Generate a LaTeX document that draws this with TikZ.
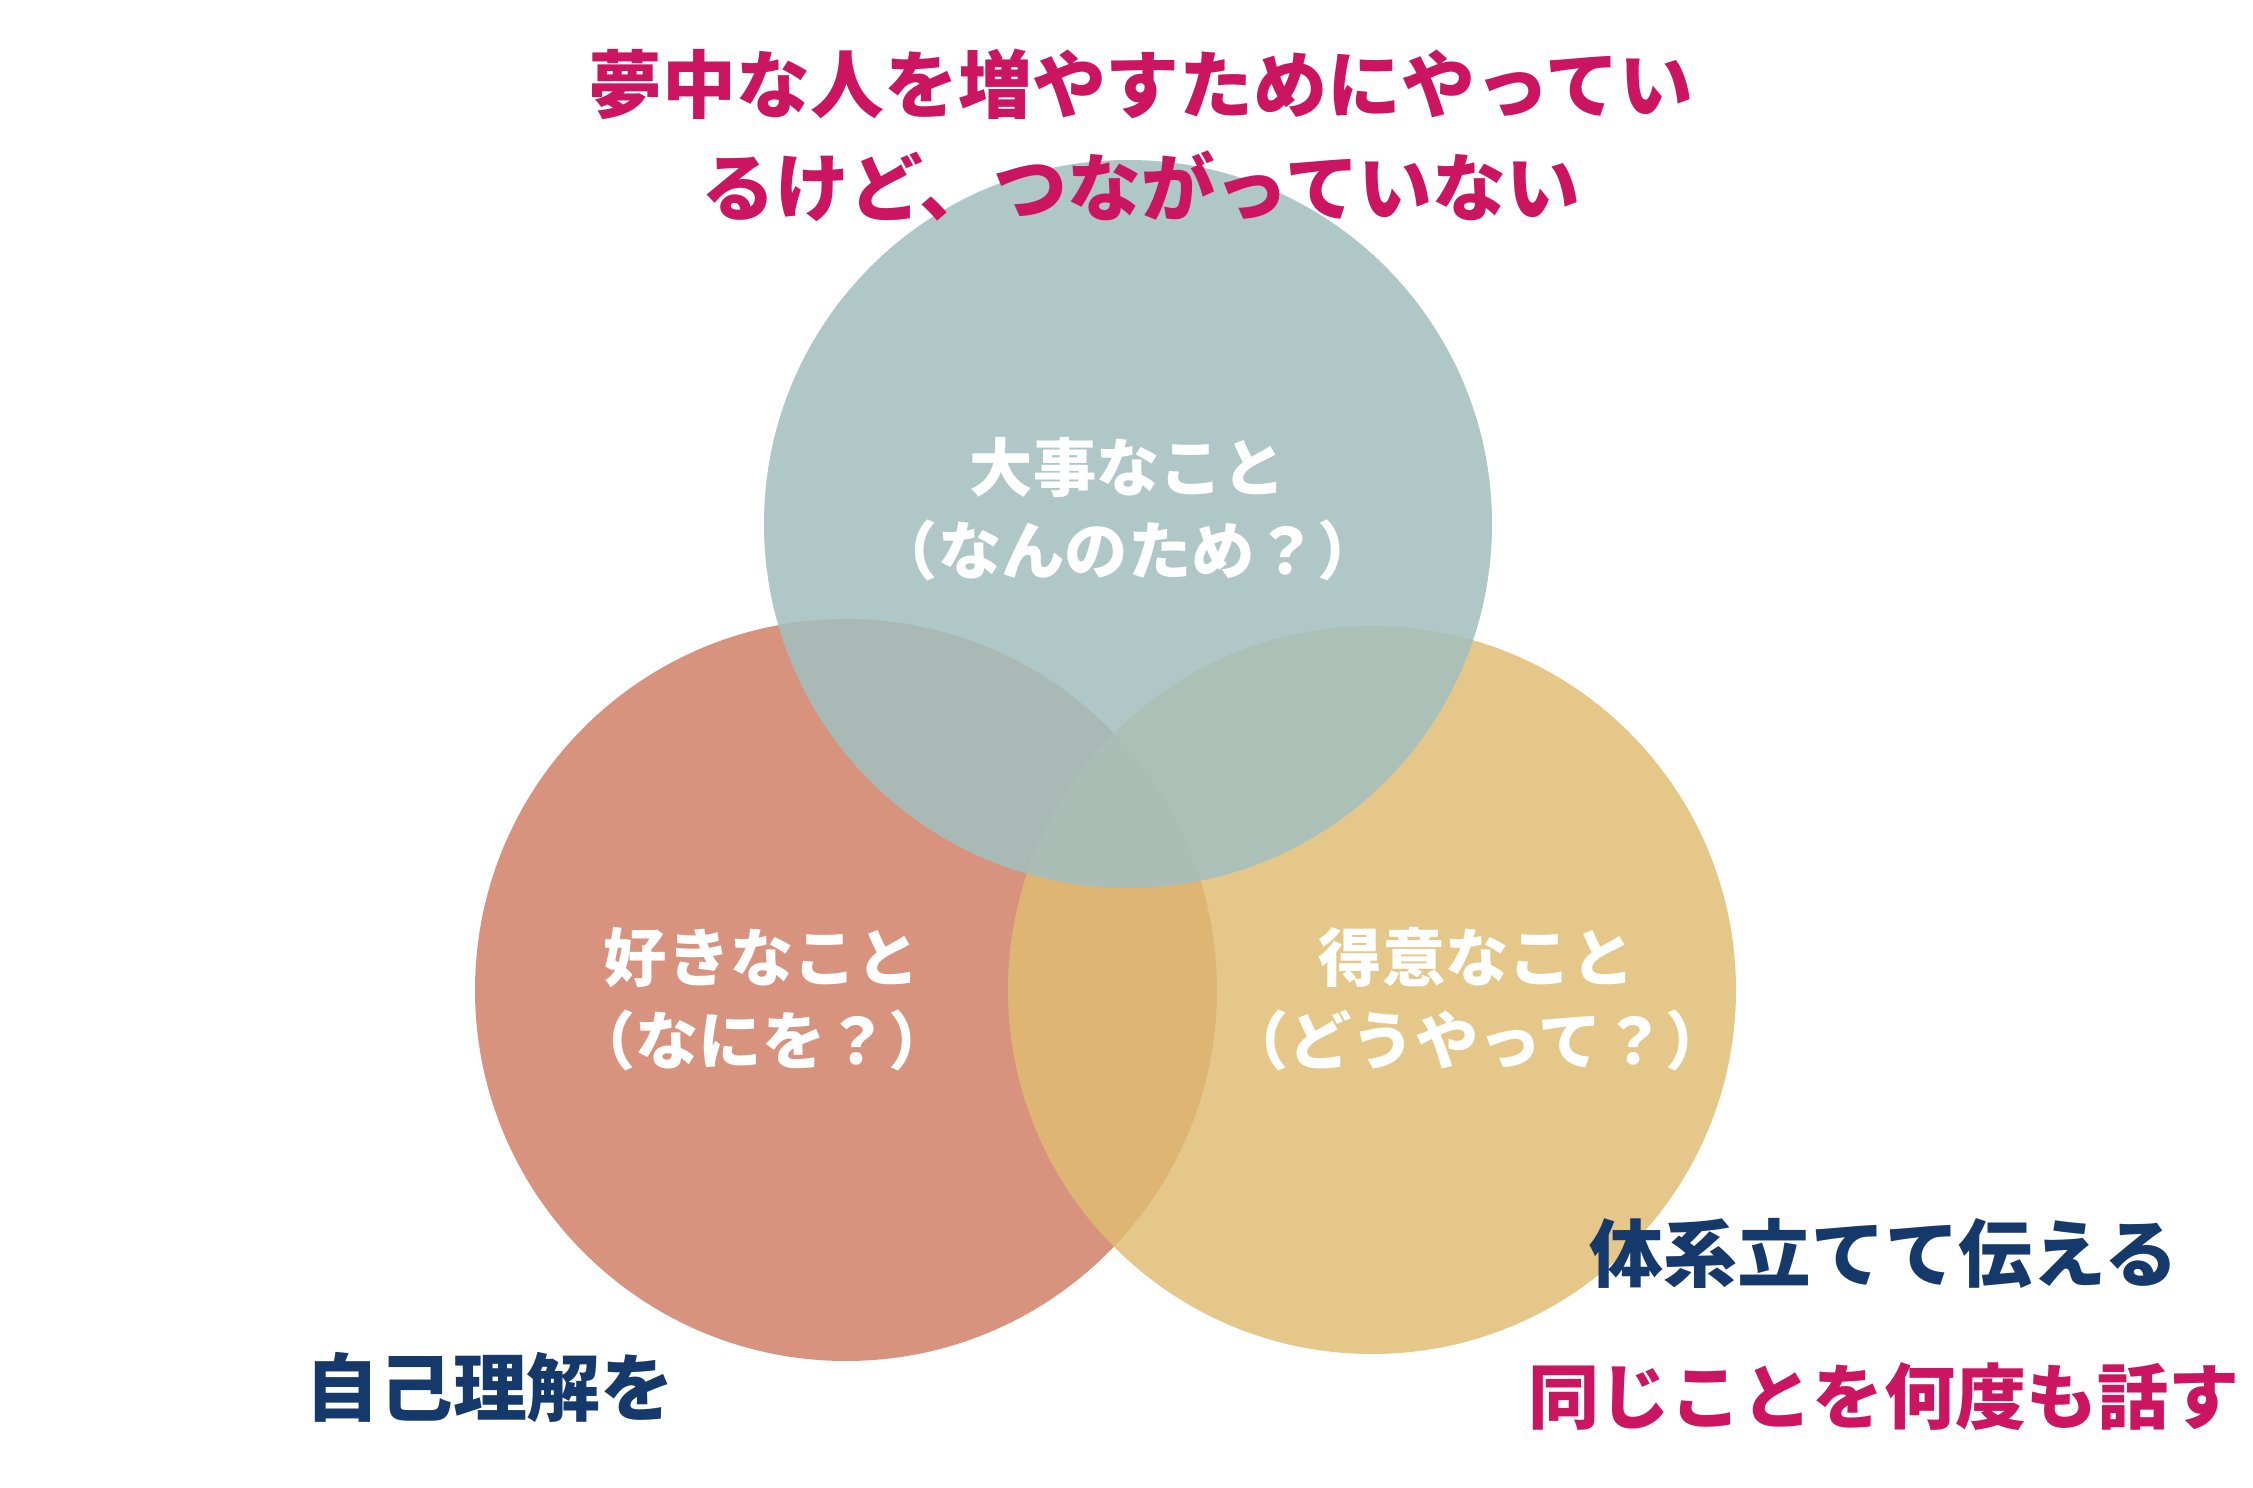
\documentclass[tikz,border=0pt]{standalone}
\usepackage{fontspec}
\usepackage{xcolor}
\usepackage{tikz}
\newfontfamily\jpfont{Noto Sans CJK JP}
\definecolor{title}{HTML}{CC1560}
\definecolor{navy}{HTML}{16396B}
\definecolor{aim}{HTML}{A3C0BF}
\definecolor{like}{HTML}{D8937F}
\definecolor{skill}{HTML}{E1BC72}
\tikzset{
  big/.style={font=\jpfont\bfseries\fontsize{21}{29.3}\selectfont, align=center, inner sep=0pt},
  inner/.style={font=\jpfont\bfseries\fontsize{18}{23.6}\selectfont, align=center, inner sep=0pt, text=white},
}

\begin{document}
\begin{tikzpicture}[x=0.01cm,y=-0.01cm]
\useasboundingbox (0,0) rectangle (2253,1488);
\fill[like] (846,990) circle (371);
\fill[skill,opacity=0.83] (1372,990) circle (364);
\fill[aim,opacity=0.87] (1128,524) circle (364);
\node[big,text=title] (head) at (1141,135) {夢中な人を増やすためにやってい\\るけど、つながっていない};
\node[inner] (aimtext) at (1128,509) {大事なこと\\（なんのため？）};
\node[inner] (liketext) at (762,999) {好きなこと\\（なにを？）};
\node[inner] (skilltext) at (1477,999) {得意なこと\\（どうやって？）};
\node[big,text=navy] (system) at (1884,1253) {体系立てて伝える};
\node[big,text=navy] (self) at (490,1387) {自己理解を};
\node[big,text=title,font=\jpfont\bfseries\fontsize{20.2}{28}\selectfont] (repeat) at (1884,1397) {同じことを何度も話す};
\end{tikzpicture}
\end{document}
